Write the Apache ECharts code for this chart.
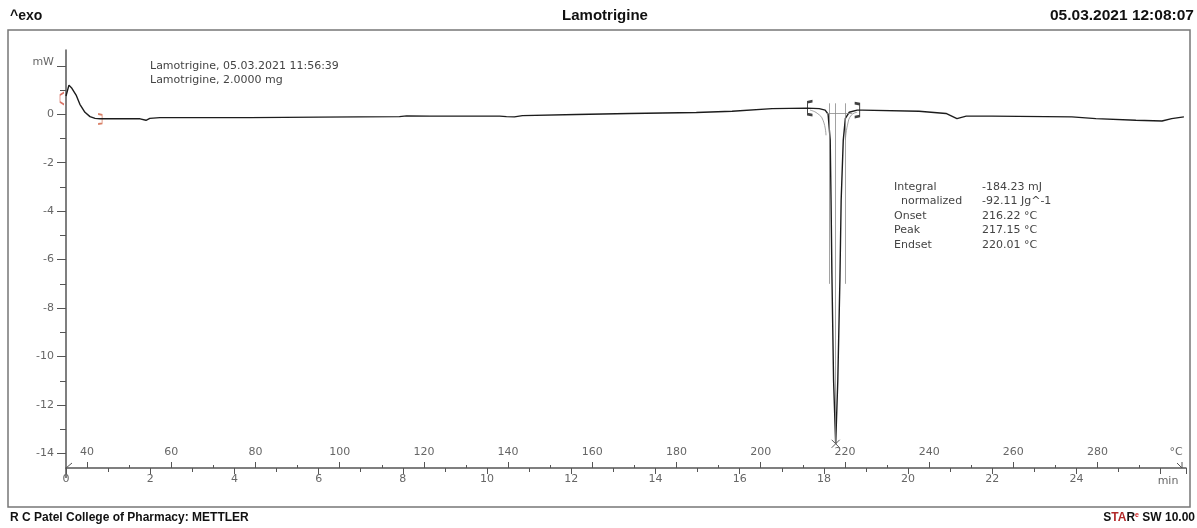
<!DOCTYPE html>
<html>
<head>
<meta charset="utf-8">
<title>Lamotrigine DSC</title>
<script src="https://cdn.jsdelivr.net/npm/echarts@6/dist/echarts.min.js"></script>
<style>
  html, body { margin: 0; padding: 0; background: #fff; }
  #chart { width: 1197px; height: 528px; }
</style>
</head>
<body>
<div id="chart"></div>
<script>
  // DSC curve: time in min, heat flow in mW
  var timeMin = [0, 0.07, 0.14, 0.24, 0.33, 0.45, 0.57, 0.69, 0.81,
    1.2, 1.76, 1.9, 1.99, 2.23, 3.3, 4.37, 6.0, 7.92, 8.09,
    8.64, 10.3, 10.46, 10.65, 10.84, 12.12, 13.38, 14.97, 15.82, 16.77,
    17.6, 17.89, 18.03, 18.1, 18.15, 18.17, 18.19, 18.23, 18.28, 18.33,
    18.38, 18.41, 18.46, 18.51, 18.6, 18.79, 18.91, 20.26, 20.9, 21.16,
    21.38, 21.99, 23.89, 24.46, 25.41, 26.03, 26.26, 26.55];
  var heatFlow = [0.75, 1.2, 1.07, 0.79, 0.41, 0.08, -0.1, -0.17, -0.19,
    -0.19, -0.19, -0.25, -0.17, -0.14, -0.14, -0.14, -0.12, -0.1, -0.07,
    -0.08, -0.08, -0.1, -0.11, -0.06, -0.01, 0.03, 0.07, 0.12, 0.23,
    0.25, 0.23, 0.17, 0, -1.07, -3.55, -6.57, -11, -13.6, -11,
    -6.86, -3.55, -1.07, -0.17, 0.08, 0.17, 0.17, 0.12, 0.03, -0.18,
    -0.08, -0.08, -0.11, -0.18, -0.25, -0.28, -0.18, -0.11];

  // axes
  var timeRange = [0, 26.6];
  var timeLabels = [0, 2, 4, 6, 8, 10, 12, 14, 16, 18, 20, 22, 24];
  var tempStart = 35;          // °C at t = 0
  var heatRate = 10;           // K/min
  var tempLabels = [40, 60, 80, 100, 120, 140, 160, 180, 200, 220, 240, 260, 280];
  var tempMinor = [50, 70, 90, 110, 130, 150, 170, 190, 210, 230, 250, 270, 290];
  var yRange = [-14.6, 2.65];
  var yLabels = [2, 0, -2, -4, -6, -8, -10, -12, -14];
  var yMinor = [1, -1, -3, -5, -7, -9, -11, -13];

  // evaluation marks (time, mW)
  var leftLimit = [17.67, 0.25];
  var rightLimit = [18.79, 0.17];
  var peakPoint = [18.28, -13.6];
  var onsetT = 18.12, endsetT = 18.5;
  var firstRangeStart = [0, 0.65];
  var firstRangeEnd = [0.81, -0.2];
  var tailLeftT = [17.67, 17.84, 17.98, 18.05];
  var tailLeftV = [0.17, 0.04, -0.25, -0.87];
  var tailRightT = [18.79, 18.65, 18.56, 18.51];
  var tailRightV = [0.08, -0.04, -0.45, -1.07];

  var resultRows = [
    ['Integral', '-184.23 mJ'],
    ['  normalized', '-92.11 Jg^-1'],
    ['Onset', '216.22 \u00b0C'],
    ['Peak', '217.15 \u00b0C'],
    ['Endset', '220.01 \u00b0C']
  ];

  function zip(a, b) {
    return a.map(function (v, i) { return [v, b[i]]; });
  }

  var axisGrey = '#555';
  var labelFont = 'DejaVu Sans';
  var headFont = 'bold 15px "Liberation Sans", Arial, sans-serif';
  var footFont = 'bold 12px "Liberation Sans", Arial, sans-serif';
  var smallFont = '11px "DejaVu Sans", Verdana, sans-serif';

  var chart = echarts.init(document.getElementById('chart'));

  var graphics = [
    { type: 'rect', shape: { x: 8, y: 30, width: 1182, height: 477 },
      style: { fill: 'none', stroke: '#777', lineWidth: 1.5 } },
    { type: 'text', x: 10, y: 16, style: { text: '^exo', font: 'bold 14px "Liberation Sans", Arial', fill: '#111', textVerticalAlign: 'middle' } },
    { type: 'text', x: 605, y: 16, style: { text: 'Lamotrigine', font: headFont, fill: '#111', textAlign: 'center', textVerticalAlign: 'middle' } },
    { type: 'text', x: 1050, y: 16, style: { text: '05.03.2021 12:08:07', font: 'bold 15.5px "Liberation Sans", Arial', fill: '#111', textVerticalAlign: 'middle' } },
    { type: 'text', x: 10, y: 518, style: { text: 'R C Patel College of Pharmacy: METTLER', font: footFont, fill: '#111', textVerticalAlign: 'middle' } },
    { type: 'text', x: 1195, y: 518, style: {
        text: '{b|S}{r|TA}{b|R}{e|e}{b| SW 10.00}', textAlign: 'right', textVerticalAlign: 'middle',
        rich: {
          b: { font: footFont, fill: '#111' },
          r: { font: footFont, fill: '#b22a2a' },
          e: { font: 'bold 7px "Liberation Sans", Arial', fill: '#d02020', verticalAlign: 'top' }
        } } },
    { type: 'text', x: 150, y: 66, style: { text: 'Lamotrigine, 05.03.2021 11:56:39', font: smallFont, fill: '#444', textVerticalAlign: 'middle' } },
    { type: 'text', x: 150, y: 80, style: { text: 'Lamotrigine, 2.0000 mg', font: smallFont, fill: '#444', textVerticalAlign: 'middle' } },
    { type: 'text', x: 1168, y: 481, style: { text: 'min', font: smallFont, fill: '#666', textAlign: 'center', textVerticalAlign: 'middle' } },
    { type: 'text', x: 1176, y: 452, style: { text: '\u00b0C', font: smallFont, fill: '#666', textAlign: 'center', textVerticalAlign: 'middle' } },
    { type: 'polyline', shape: { points: [[1177, 463], [1182, 468], [1182, 462]] },
      style: { stroke: axisGrey, lineWidth: 1, fill: 'none' } },
    { type: 'polyline', shape: { points: [[66, 468], [72, 463]] },
      style: { stroke: axisGrey, lineWidth: 1, fill: 'none' } },
    { type: 'line', shape: { x1: 66, y1: 468, x2: 66, y2: 478 },
      style: { stroke: axisGrey, lineWidth: 1.5 } }
  ];
  resultRows.forEach(function (row, i) {
    graphics.push({ type: 'text', x: 894, y: 187 + i * 14.5,
      style: { text: row[0], font: smallFont, fill: '#444', textVerticalAlign: 'middle' } });
    graphics.push({ type: 'text', x: 982, y: 187 + i * 14.5,
      style: { text: row[1], font: smallFont, fill: '#444', textVerticalAlign: 'middle' } });
  });

  var thinGrey = { color: '#8a8a8a', width: 0.8 };

  var option = {
    animation: false,
    backgroundColor: '#fff',
    grid: { left: 66, right: 11, top: 50, bottom: 60 },
    xAxis: [
      {
        type: 'value', min: timeRange[0], max: timeRange[1], interval: 2, position: 'bottom',
        axisLine: { onZero: false, lineStyle: { color: axisGrey, width: 1.5 } },
        axisTick: { length: 6, lineStyle: { color: axisGrey } },
        minorTick: { show: true, splitNumber: 2, length: 4, lineStyle: { color: axisGrey } },
        axisLabel: { customValues: timeLabels, color: '#666', fontSize: 11, fontFamily: labelFont, margin: 6 },
        splitLine: { show: false }
      },
      {
        type: 'value', min: tempStart, max: tempStart + heatRate * timeRange[1], position: 'bottom',
        axisLine: { show: false, onZero: false },
        axisTick: { inside: true, length: 6, customValues: tempLabels, lineStyle: { color: axisGrey } },
        axisLabel: { inside: true, customValues: tempLabels, color: '#666', fontSize: 11, fontFamily: labelFont, margin: 10 },
        splitLine: { show: false }
      },
      {
        type: 'value', min: tempStart, max: tempStart + heatRate * timeRange[1], position: 'bottom',
        axisLine: { show: false, onZero: false },
        axisTick: { inside: true, length: 3, customValues: tempMinor, lineStyle: { color: axisGrey } },
        axisLabel: { show: false },
        splitLine: { show: false }
      }
    ],
    yAxis: [
      {
        type: 'value', min: yRange[0], max: yRange[1], position: 'left',
        axisLine: { show: true, onZero: false, lineStyle: { color: axisGrey, width: 1.5 } },
        axisTick: { length: 9, customValues: yLabels, lineStyle: { color: axisGrey } },
        axisLabel: {
          customValues: yLabels, color: '#666', fontSize: 11, fontFamily: labelFont, margin: 12,
          formatter: function (v) { return v === 2 ? '{u|mW}' : String(v); },
          rich: { u: { color: '#666', fontSize: 11, fontFamily: labelFont, padding: [0, 0, 8, 0] } }
        },
        splitLine: { show: false }
      },
      {
        type: 'value', min: yRange[0], max: yRange[1], position: 'left',
        axisLine: { show: false, onZero: false },
        axisTick: { length: 6, customValues: yMinor, lineStyle: { color: axisGrey } },
        axisLabel: { show: false },
        splitLine: { show: false }
      }
    ],
    graphic: graphics,
    series: [
      {
        name: 'Lamotrigine', type: 'line', data: zip(timeMin, heatFlow),
        showSymbol: false, lineStyle: { color: '#1c1c1c', width: 1.4 },
        markLine: {
          silent: true, symbol: 'none', label: { show: false }, lineStyle: { color: '#8a8a8a', width: 0.8, type: 'solid' },
          data: [
            [{ coord: [onsetT, 0.45] }, { coord: [onsetT, -7] }],
            [{ coord: [endsetT, 0.45] }, { coord: [endsetT, -7] }],
            [{ coord: [peakPoint[0], 0.45] }, { coord: [peakPoint[0], peakPoint[1]] }],
            [{ coord: [18.07, 0.03] }, { coord: [18.67, 0.03] }]
          ]
        }
      },
      { type: 'line', data: zip(tailLeftT, tailLeftV), showSymbol: false, smooth: true, lineStyle: thinGrey },
      { type: 'line', data: zip(tailRightT, tailRightV), showSymbol: false, smooth: true, lineStyle: thinGrey },
      {
        type: 'scatter', clip: false, data: [leftLimit], symbol: 'path://M4,0 L0,1 L0,13 L4,14',
        symbolSize: [5, 14], itemStyle: { color: 'transparent', borderColor: '#111', borderWidth: 1.6 }
      },
      {
        type: 'scatter', clip: false, data: [rightLimit], symbol: 'path://M0,0 L4,1 L4,13 L0,14',
        symbolSize: [5, 14], itemStyle: { color: 'transparent', borderColor: '#111', borderWidth: 1.6 }
      },
      {
        type: 'scatter', clip: false, data: [firstRangeStart], symbol: 'path://M4,0 L0,3 L0,11 L4,14',
        symbolSize: [4, 12], symbolOffset: [-4, 0], itemStyle: { color: 'transparent', borderColor: '#d05040', borderWidth: 1.2 }
      },
      {
        type: 'scatter', clip: false, data: [firstRangeEnd], symbol: 'path://M0,0 L4,1 L4,13 L0,14',
        symbolSize: [4, 10], itemStyle: { color: 'transparent', borderColor: '#d06040', borderWidth: 1.2 }
      },
      {
        type: 'scatter', clip: false, data: [peakPoint], symbol: 'path://M0,0 L10,10 M10,0 L0,10',
        symbolSize: 8, itemStyle: { color: 'transparent', borderColor: '#333', borderWidth: 1 }
      }
    ]
  };

  chart.setOption(option);
</script>
</body>
</html>
